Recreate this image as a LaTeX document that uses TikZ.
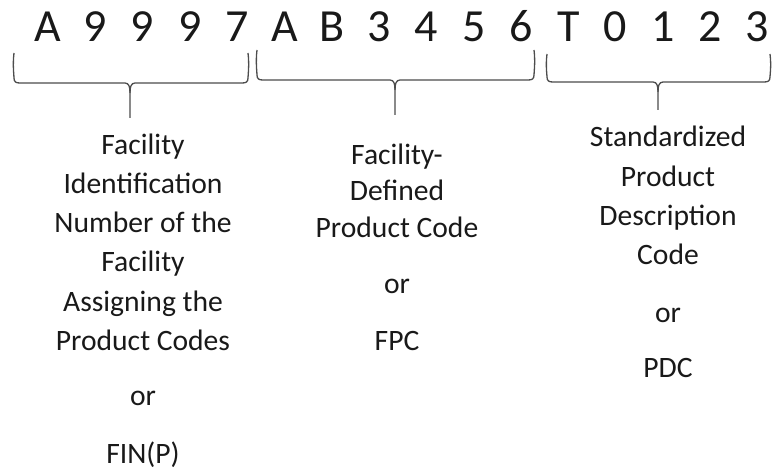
\documentclass[tikz,border=0pt]{standalone}
\usepackage{fontspec}
\setmainfont{Carlito}
\begin{document}
\begin{tikzpicture}[x=1pt,y=-1pt,
  code/.style={font=\fontsize{46}{46}\selectfont, anchor=base, inner sep=0pt, text=black!90},
  desc/.style={font=\fontsize{29.6}{31}\selectfont, anchor=base, inner sep=0pt, text=black!90},
  bracepath/.style={draw=black!70, line width=1.3pt, line join=round}]
\useasboundingbox (0,0) rectangle (773,470);
% top code characters
\foreach \c [count=\i from 0] in {A,9,9,9,7,A,B,3,4,5,6,T,0,1,2,3}{
  \node[code] (c\i) at ({48+47.3*\i},42) {\c};
}
% braces
\newcommand{\drawbrace}[6]{% x1 x2 xm top bottom tip
  \draw[bracepath] (#1,#4) .. controls (#1-1.5,#4+12) and (#1,#5-8) .. (#1,#5-5)
    .. controls (#1,#5-1) and (#1+2,#5) .. (#1+6,#5)
    -- (#3-5,#5) .. controls (#3-1,#5) and (#3,#5+4) .. (#3,#5+10) -- (#3,#6);
  \draw[bracepath] (#3,#5+10) .. controls (#3,#5+4) and (#3+1,#5) .. (#3+5,#5)
    -- (#2-6,#5) .. controls (#2-2,#5) and (#2,#5-1) .. (#2,#5-5)
    .. controls (#2,#5-8) and (#2+1.5,#4+12) .. (#2,#4);
}
\drawbrace{14}{248}{130}{53}{83}{118}
\drawbrace{257}{534}{395}{50}{80}{115}
\drawbrace{547}{770}{658}{54}{82}{110}
% column 1
\node[desc] (a1) at (143,155) {Facility};
\node[desc] (a2) at (143,194) {Identification};
\node[desc] (a3) at (143,233) {Number of the};
\node[desc] (a4) at (143,272) {Facility};
\node[desc] (a5) at (143,311) {Assigning the};
\node[desc] (a6) at (143,350) {Product Codes};
\node[desc] (a7) at (143,405) {or};
\node[desc] (a8) at (143,463) {FIN(P)};
% column 2
\node[desc] (b1) at (397,165) {Facility-};
\node[desc] (b2) at (397,201) {Defined};
\node[desc] (b3) at (397,238) {Product Code};
\node[desc] (b4) at (397,293) {or};
\node[desc] (b5) at (397,350) {FPC};
% column 3
\node[desc] (d1) at (668,147) {Standardized};
\node[desc] (d2) at (668,187) {Product};
\node[desc] (d3) at (668,226) {Description};
\node[desc] (d4) at (668,265) {Code};
\node[desc] (d5) at (668,322) {or};
\node[desc] (d6) at (668,377) {PDC};
\end{tikzpicture}
\end{document}
